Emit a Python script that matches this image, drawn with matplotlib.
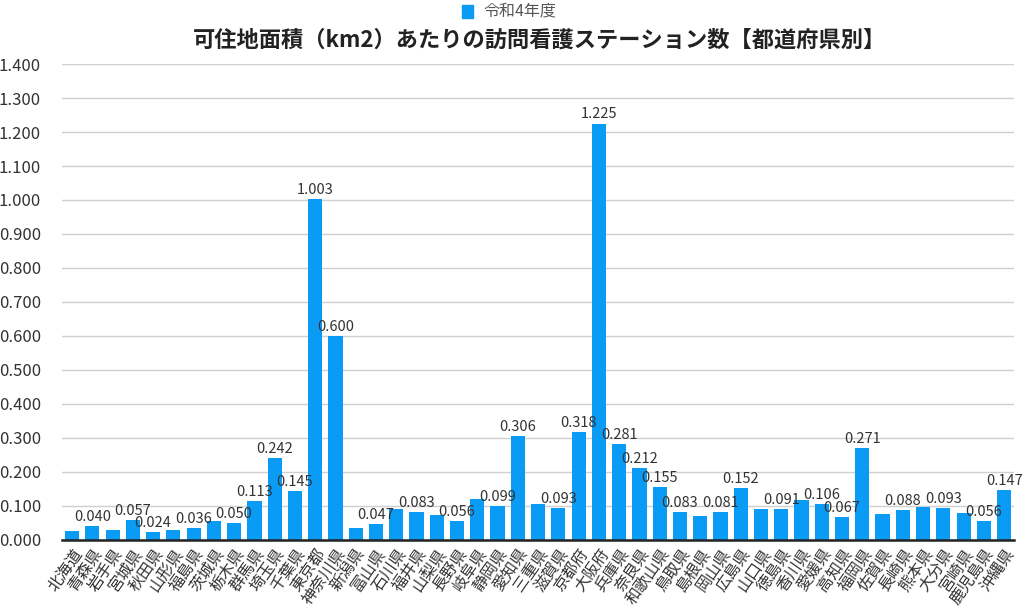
import numpy as np
import matplotlib
matplotlib.use('Agg')
import matplotlib.pyplot as plt
from matplotlib.patches import Rectangle

plt.rcParams['font.family'] = ['Noto Sans CJK JP', 'DejaVu Sans']

prefectures = ['北海道', '青森県', '岩手県', '宮城県', '秋田県', '山形県', '福島県', '茨城県',
               '栃木県', '群馬県', '埼玉県', '千葉県', '東京都', '神奈川県', '新潟県', '富山県',
               '石川県', '福井県', '山梨県', '長野県', '岐阜県', '静岡県', '愛知県', '三重県',
               '滋賀県', '京都府', '大阪府', '兵庫県', '奈良県', '和歌山県', '鳥取県', '島根県',
               '岡山県', '広島県', '山口県', '徳島県', '香川県', '愛媛県', '高知県', '福岡県',
               '佐賀県', '長崎県', '熊本県', '大分県', '宮崎県', '鹿児島県', '沖縄県']
values = [0.025, 0.040, 0.030, 0.057, 0.024, 0.028, 0.036, 0.055,
          0.050, 0.113, 0.242, 0.145, 1.003, 0.600, 0.035, 0.047,
          0.090, 0.083, 0.072, 0.056, 0.120, 0.099, 0.306, 0.105,
          0.093, 0.318, 1.225, 0.281, 0.212, 0.155, 0.083, 0.070,
          0.081, 0.152, 0.090, 0.091, 0.116, 0.106, 0.067, 0.271,
          0.075, 0.088, 0.096, 0.093, 0.079, 0.056, 0.147]
# 値ラベルを表示するバー (重なって省略されているものは False)
show_label = [False, True, False, True, True, False, True, False,
              True, True, True, True, True, True, False, True,
              False, True, False, True, False, True, True, False,
              True, True, True, True, True, True, True, False,
              True, True, False, True, False, True, True, True,
              False, True, False, True, False, True, True]
y_ticks = np.arange(0, 1.401, 0.1)

color = '#0a9bf5'

fig = plt.figure(figsize=(10.24, 6.1), dpi=100)
ax = fig.add_axes([0.0605, 0.115, 0.93, 0.78])

x = np.arange(len(prefectures))
bars = ax.bar(x, values, width=0.7, color=color, zorder=2)

for xi, v, s in zip(x, values, show_label):
    if s:
        ax.text(xi, v + 0.006, f'{v:.3f}', ha='center', va='bottom',
                fontsize=10.5, color='#333333', zorder=3)

ax.set_xlim(-0.5, len(prefectures) - 0.5)
ax.set_ylim(0, 1.4)
ax.set_yticks(y_ticks)
ax.set_yticklabels([f'{t:.3f}' for t in y_ticks], fontsize=12, color='#333333')
ax.yaxis.grid(True, color='#d0d0d0', linewidth=1, zorder=0)
ax.set_xticks(x)
ax.set_xticklabels(prefectures, rotation=55, ha='right', rotation_mode='anchor',
                   fontsize=11.5, color='#333333')
ax.tick_params(axis='both', length=0)
ax.tick_params(axis='y', pad=15)
ax.tick_params(axis='x', pad=4)
for side in ['top', 'right', 'left']:
    ax.spines[side].set_visible(False)
ax.spines['bottom'].set_color('#222222')
ax.spines['bottom'].set_linewidth(1.8)
ax.spines['bottom'].set_zorder(4)

fig.text(0.527, 0.934, '可住地面積（km2）あたりの訪問看護ステーション数【都道府県別】',
         ha='center', va='center', fontsize=16, fontweight='bold', color='#222222')
fig.patches.append(Rectangle((0.4515, 0.9705), 0.0105, 0.021, transform=fig.transFigure,
                             color=color, figure=fig))
fig.text(0.4725, 0.9815, '令和4年度', ha='left', va='center', fontsize=11.5, color='#555555')

fig.savefig('out.png', dpi=100)
